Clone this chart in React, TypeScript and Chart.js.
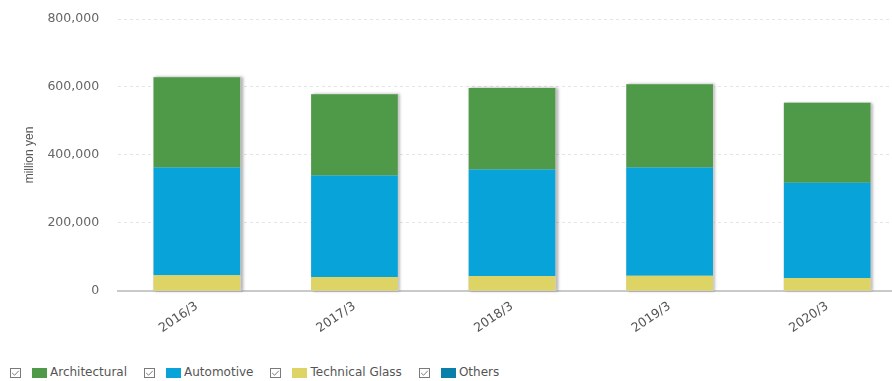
import React, { useEffect, useRef } from "react";
import { Chart, registerables } from "chart.js";

Chart.register(...registerables);

const categories = ["2016/3", "2017/3", "2018/3", "2019/3", "2020/3"];
const architectural = [266000, 239000, 240000, 245000, 236000];
const automotive = [317000, 299000, 313000, 318000, 280000];
const technicalGlass = [46000, 41000, 44000, 45000, 38000];
const others = [0, 0, 0, 0, 0];
const yTicks = [0, 200000, 400000, 600000, 800000];

const COLORS = {
  architectural: "#4f9a48",
  automotive: "#08a3d8",
  technical: "#ddd465",
  others: "#0a7fa9",
};

const legendItems = [
  { label: "Architectural", color: COLORS.architectural },
  { label: "Automotive", color: COLORS.automotive },
  { label: "Technical Glass", color: COLORS.technical },
  { label: "Others", color: COLORS.others },
];

const shadowPlugin = {
  id: "stackShadow",
  beforeDatasetsDraw(chart: any) {
    const ctx = chart.ctx;
    const y = chart.scales.y;
    const metas = chart.getSortedVisibleDatasetMetas();
    if (!metas.length) return;
    const n = chart.data.labels.length;
    ctx.save();
    for (let i = 0; i < n; i++) {
      let top = y.getPixelForValue(0);
      let x = 0;
      let w = 0;
      metas.forEach((m: any) => {
        const el = m.data[i];
        if (!el) return;
        const props = el.getProps(["x", "y", "width"], true);
        x = props.x;
        w = props.width;
        top = Math.min(top, props.y);
      });
      const bottom = y.getPixelForValue(0);
      ctx.shadowColor = "rgba(0,0,0,0.35)";
      ctx.shadowBlur = 3;
      ctx.shadowOffsetX = 1.5;
      ctx.shadowOffsetY = 0;
      ctx.fillStyle = "#cfcfcf";
      ctx.fillRect(x - w / 2, top, w + 1, bottom - top);
    }
    ctx.restore();
  },
};

function CheckBox() {
  return (
    <svg width="11" height="10" viewBox="0 0 11 10" style={{ display: "block" }}>
      <rect x="0.5" y="0.5" width="10" height="9" fill="#fff" stroke="#7a7a7a" strokeWidth="1" />
      <polyline points="2.2,5 4.6,7.2 8.8,2.8" fill="none" stroke="#7a7a7a" strokeWidth="1" />
    </svg>
  );
}

export default function App() {
  const canvasRef = useRef<HTMLCanvasElement | null>(null);

  useEffect(() => {
    document.body.style.margin = "0";
    const canvas = canvasRef.current;
    if (!canvas) return;
    const chart = new Chart(canvas, {
      type: "bar",
      data: {
        labels: categories,
        datasets: [
          { label: "Technical Glass", data: technicalGlass, backgroundColor: COLORS.technical },
          { label: "Automotive", data: automotive, backgroundColor: COLORS.automotive },
          { label: "Architectural", data: architectural, backgroundColor: COLORS.architectural },
          { label: "Others", data: others, backgroundColor: COLORS.others },
        ].map((d) => ({
          ...d,
          borderWidth: 0,
          barPercentage: 0.55,
          categoryPercentage: 1,
        })),
      },
      options: {
        responsive: false,
        animation: false,
        maintainAspectRatio: false,
        layout: { padding: { left: 22, top: 19, right: 0, bottom: 0 } },
        plugins: {
          legend: { display: false },
          tooltip: { enabled: false },
        },
        scales: {
          x: {
            stacked: true,
            offset: true,
            grid: { display: false, drawTicks: false },
            border: { display: true, color: "#c9c9c9", width: 2 },
            ticks: {
              color: "#555",
              font: { family: "DejaVu Sans", size: 12.5 },
              minRotation: 34,
              maxRotation: 34,
              padding: 8,
            },
          },
          y: {
            stacked: true,
            min: 0,
            max: 800000,
            afterBuildTicks: (scale: any) => {
              scale.ticks = yTicks.map((v) => ({ value: v }));
            },
            grid: { color: "#e4e4e4", drawTicks: true, tickLength: 15, tickColor: "rgba(0,0,0,0)", lineWidth: 1 },
            border: { display: false, dash: [3, 3] },
            ticks: {
              color: "#666",
              font: { family: "DejaVu Sans", size: 12.5 },
              padding: 4,
              callback: (v: any) => Number(v).toLocaleString("en-US"),
            },
            title: {
              display: true,
              text: "million yen",
              color: "#555",
              font: { family: "Liberation Sans", size: 12 },
              padding: { top: 0, bottom: 7 },
            },
          },
        },
      },
      plugins: [shadowPlugin],
    });
    return () => chart.destroy();
  }, []);

  return (
    <div style={{ position: "relative", width: 892, height: 381, overflow: "hidden", background: "#fff" }}>
      <canvas ref={canvasRef} width={906} height={344} style={{ position: "absolute", left: 0, top: 0 }} />
      <div
        style={{
          position: "absolute",
          left: 10,
          top: 366,
          display: "flex",
          alignItems: "center",
          fontFamily: "DejaVu Sans",
          fontSize: 12,
          lineHeight: "13px",
          color: "#555",
          whiteSpace: "nowrap",
        }}
      >
        {legendItems.map((it) => (
          <div key={it.label} style={{ display: "flex", alignItems: "center", marginRight: 17 }}>
            <CheckBox />
            <span style={{ display: "inline-block", width: 15, height: 10, background: it.color, marginLeft: 11, marginRight: 3 }} />
            <span>{it.label}</span>
          </div>
        ))}
      </div>
    </div>
  );
}
